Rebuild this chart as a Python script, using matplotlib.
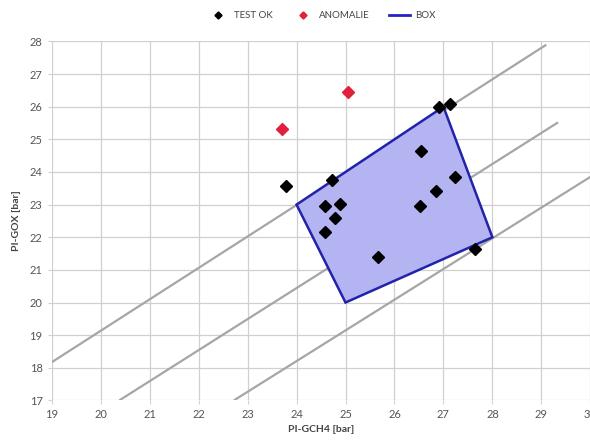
import matplotlib
matplotlib.use('Agg')
import matplotlib.pyplot as plt
from matplotlib.patches import Polygon

plt.rcParams['font.family'] = ['Lato', 'DejaVu Sans']

#----------data-------------*
ok_x = [23.78, 24.73, 24.59, 24.88, 24.78, 24.58, 25.66, 26.54, 26.52, 26.84, 27.23, 26.90, 27.14, 27.64]
ok_y = [23.57, 23.75, 22.96, 23.02, 22.58, 22.17, 21.39, 24.65, 22.97, 23.43, 23.85, 26.00, 26.07, 21.64]

anom_x = [23.71, 25.06]
anom_y = [25.31, 26.44]

box_x = [24, 27, 28, 25]
box_y = [23, 26, 22, 20]

# reference lines (start / end points)
ref_lines = [
    ([19.0, 29.1], [18.17, 27.9]),
    ([20.38, 29.34], [17.0, 25.52]),
    ([22.72, 30.0], [17.0, 23.85]),
]

#----------plot-------------*
fig = plt.figure(figsize=(5.9, 4.41), dpi=100)
ax = fig.add_axes([0.0876, 0.092, 0.913, 0.814])

for lx, ly in ref_lines:
    ax.plot(lx, ly, color='#a6a6a6', lw=1.6, zorder=2, solid_capstyle='butt')

box = Polygon(list(zip(box_x, box_y)), closed=True, facecolor='#b4b4f2',
              edgecolor='#2222aa', lw=1.8, zorder=3)
ax.add_patch(box)

ax.plot(ok_x, ok_y, 'D', color='black', ms=6, zorder=4, label='TEST OK')
ax.plot(anom_x, anom_y, 'D', color='#e0203c', ms=6, zorder=4, label='ANOMALIE')
ax.plot([], [], color='#2222cc', lw=2, label='BOX')

ax.set_xlim(19, 30)
ax.set_ylim(17, 28)
ax.set_xticks(range(19, 31))
ax.set_yticks(range(17, 29))
ax.grid(True, color='#d0d0d0', lw=0.9)
ax.set_axisbelow(True)
for s in ax.spines.values():
    s.set_visible(False)
ax.tick_params(direction='out', length=3, color='#d0d0d0', labelsize=8,
               labelcolor='#555555')

ax.set_xlabel('PI-GCH4 [bar]', fontsize=7.5, fontweight='bold', color='#444444', labelpad=3)
ax.set_ylabel('PI-GOX [bar]', fontsize=7.5, fontweight='bold', color='#444444', labelpad=6)

leg = fig.legend(loc='center', bbox_to_anchor=(0.545, 0.965), ncol=3, frameon=False,
                 fontsize=7, markerscale=0.6, handlelength=2.2, columnspacing=2.0,
                 handletextpad=0.5)
for t in leg.get_texts():
    t.set_color('#444444')

fig.savefig('out.png', dpi=100)
